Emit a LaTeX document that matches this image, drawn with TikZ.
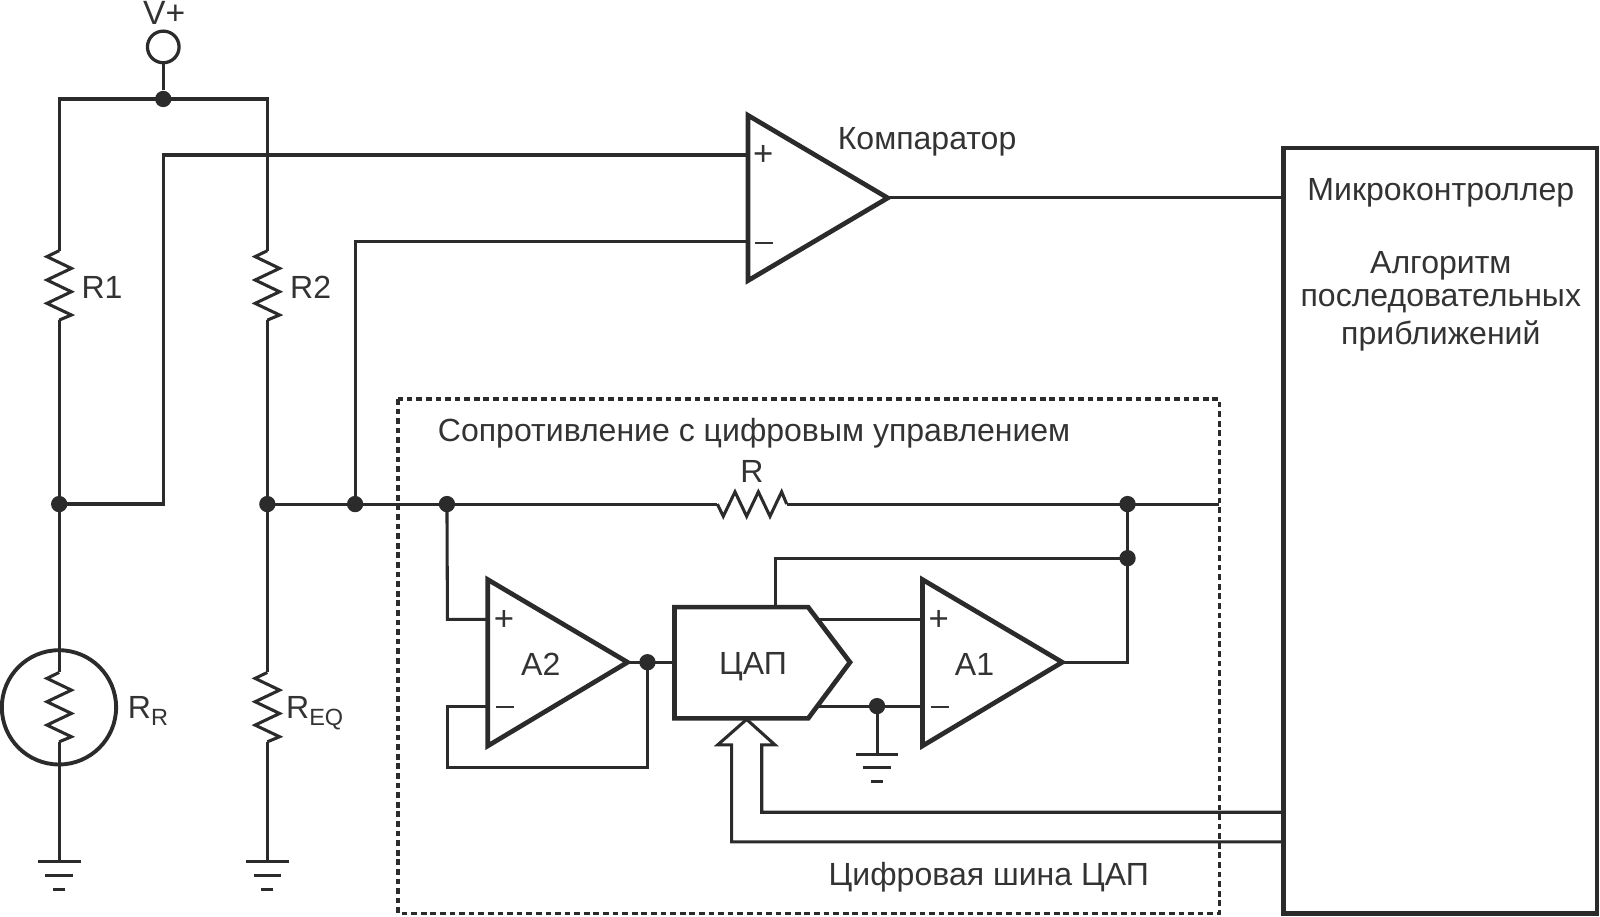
\documentclass[tikz,border=0pt]{standalone}
\usepackage{fontspec}
\setmainfont{Liberation Sans}
\definecolor{ink}{HTML}{2B2B2B}
\definecolor{txt}{HTML}{333333}
\tikzset{
  wire/.style={draw=ink,line width=1.5pt,line join=miter,line cap=butt},
  thick wire/.style={draw=ink,line width=2.3pt,line join=miter},
  dot/.style={circle,fill=ink,draw=none,minimum size=8pt,inner sep=0pt},
  lab/.style={text=txt,font=\fontsize{15.7}{18}\selectfont,inner sep=0pt},
  sign/.style={text=txt,font=\fontsize{17}{18}\selectfont,inner sep=0pt},
  minus/.style={inner sep=0pt,text=txt}
}
\newcommand{\vres}[2]{% x, top y
  \draw[wire] (#1,#2) -- ++(-12,5.8) -- ++(24,11.5) -- ++(-24,11.4) -- ++(24,11.5) -- ++(-24,11.4) -- ++(24,11.4) -- ++(-12,5);}
\newcommand{\gnd}[2]{% x, top y
  \draw[wire] (#1-21,#2) -- (#1+21,#2);
  \draw[wire] (#1-13.5,#2+13.5) -- (#1+13.5,#2+13.5);
  \draw[wire] (#1-6,#2+27) -- (#1+6,#2+27);}
\begin{document}
\begin{tikzpicture}[x=0.5pt,y=-0.5pt]
\useasboundingbox (0,0) rectangle (1568,897.7);
% junctions
\node[dot] (top) at (160,97) {};
\node[dot] (j1) at (58,494) {};
\node[dot] (j2) at (262,494) {};
\node[dot] (j3) at (348,494) {};
\node[dot] (j4) at (438,494) {};
\node[dot] (j5) at (1105,494) {};
\node[dot] (j6) at (1105,547) {};
\node[dot] (j7) at (634.5,649) {};
\node[dot] (j8) at (859.5,692) {};
% supply
\node[circle,draw=ink,line width=1.6pt,minimum size=15.5pt,inner sep=0pt] (vp) at (160,46) {};
\node[lab,font=\fontsize{16.5}{18}\selectfont] (vplab) at (161,12.5) {V+};
\draw[wire] (vp) -- (top);
\coordinate (r1t) at (58,245.7); \coordinate (r1b) at (58,314);
\coordinate (r2t) at (262,245.7); \coordinate (r2b) at (262,314);
\draw[wire] (r1t) -- (58,97) -- (top.center) -- (262,97) -- (r2t);
\vres{58}{245.7}
\vres{262}{245.7}
\draw[wire] (r1b) -- (j1.center);
\draw[wire] (r2b) -- (j2.center);
\node[lab] (r1lab) at (100,282) {R1};
\node[lab] (r2lab) at (304.5,282) {R2};
% lower branches
\coordinate (rrt) at (58,659); \coordinate (rrb) at (58,727.5);
\coordinate (eqt) at (262,659); \coordinate (eqb) at (262,727.5);
\coordinate (g1) at (58,844.4); \coordinate (g2) at (262,844.4);
\draw[wire] (j1.center) -- (rrt);
\vres{58}{659}
\draw[wire] (rrb) -- (g1);
\draw[wire] (j2.center) -- (eqt);
\vres{262}{659}
\draw[wire] (eqb) -- (g2);
\gnd{58}{844.4}
\gnd{262}{844.4}
\node[circle,draw=ink,line width=1.9pt,minimum size=56pt,inner sep=0pt] (rr) at (57.8,693.2) {};
\node[lab,anchor=base west] (rrlab) at (125,704) {R\raisebox{-3.5pt}{\fontsize{11.5}{12}\selectfont R}};
\node[lab,anchor=base west] (eqlab) at (280,704) {R\raisebox{-3.5pt}{\fontsize{11.5}{12}\selectfont EQ}};
% comparator
\coordinate (cpA) at (733,113); \coordinate (cpB) at (733,275); \coordinate (cpO) at (870,194);
\coordinate (cpP) at (733,152); \coordinate (cpM) at (733,237);
\draw[thick wire] (cpA) -- (cpO) -- (cpB) -- cycle;
\node[sign] (cps) at (748,152.5) {+};
\node[minus] (cpm) at (749,238) {\rule{9pt}{1pt}};
\node[lab] (cplab) at (908.5,139) {Компаратор};
\draw[wire,line width=1.7pt] (j1.center) -- (160,494) -- (160,152) -- (cpP);
\draw[wire] (j3.center) -- (348,237) -- (cpM);
% microcontroller
\node[draw=ink,line width=2.3pt,minimum width=153.5pt,minimum height=375pt,inner sep=0pt] (mc) at (1411.5,520) {};
\coordinate (mcA) at (1258,194); \coordinate (mcB) at (1258,796); \coordinate (mcC) at (1258,825);
\draw[wire] (cpO) -- (mcA);
\node[lab] (mct) at (1412,189) {Микроконтроллер};
\node[lab] (mca1) at (1412,260) {Алгоритм};
\node[lab] (mca2) at (1412,295) {последовательных};
\node[lab] (mca3) at (1412,329) {приближений};
% dashed box
\draw[draw=ink,line width=1.6pt,dash pattern=on 2.8pt off 1.9pt] (390,391) rectangle (1195,895);
\node[lab] (dlab) at (739,425) {Сопротивление с цифровым управлением};
% R
\coordinate (rl) at (703,494); \coordinate (rr2) at (771,494); \coordinate (re) at (1195,494);
\draw[wire] (j2.center) -- (rl);
\draw[wire] (rl) -- ++(5.8,12) -- ++(11.5,-24) -- ++(11.4,24) -- ++(11.5,-24) -- ++(11.4,24) -- ++(11.4,-24) -- (rr2);
\draw[wire] (rr2) -- (re);
\node[lab] (rlab) at (737,462) {R};
% A2
\coordinate (a2A) at (478,568); \coordinate (a2B) at (478,731); \coordinate (a2O) at (615,649);
\draw[thick wire] (a2A) -- (a2O) -- (a2B) -- cycle;
\coordinate (a2P) at (478,607); \coordinate (a2M) at (478,692);
\draw[wire] (j4.center) -- (438.5,607) -- (a2P);
\draw[wire] (a2M) -- (438.5,692) -- (438.5,752) -- (634.5,752) -- (j7.center);
\node[sign] (a2s) at (494,608) {+};
\node[minus] (a2m) at (495,692.5) {\rule{9pt}{1pt}};
\node[lab] (a2lab) at (530,651) {A2};
% DAC
\coordinate (dL) at (661,649);
\draw[thick wire] (661,595) -- (792,595) -- (833,649) -- (792,704) -- (661,704) -- cycle;
\node[lab] (dac) at (738,653) {ЦАП};
\draw[wire] (a2O) -- (dL);
% A1
\coordinate (a1A) at (904,568); \coordinate (a1B) at (904,731); \coordinate (a1O) at (1041,649);
\draw[thick wire] (a1A) -- (a1O) -- (a1B) -- cycle;
\coordinate (a1P) at (904,607); \coordinate (a1M) at (904,692);
\coordinate (dP) at (803,607); \coordinate (dM) at (803,692); \coordinate (dT) at (760,595);
\draw[wire] (dP) -- (a1P);
\draw[wire] (dM) -- (a1M);
\draw[wire] (j5.center) -- (1105,649) -- (a1O);
\draw[wire] (j6.center) -- (760,547) -- (dT);
\node[sign] (a1s) at (920,608) {+};
\node[minus] (a1m) at (921,692.5) {\rule{9pt}{1pt}};
\node[lab] (a1lab) at (955,651) {A1};
\coordinate (g3) at (859.5,739);
\draw[wire] (j8.center) -- (g3);
\gnd{859.5}{739}
% bus arrow
\draw[wire,line join=miter] (mcC) -- (717,825) -- (717,730) -- (703.3,730) -- (731.7,705) -- (759.5,730) -- (746.5,730) -- (746.5,796) -- (mcB);
\node[lab] (blab) at (969,859.5) {Цифровая шина ЦАП};
\end{tikzpicture}
\end{document}
